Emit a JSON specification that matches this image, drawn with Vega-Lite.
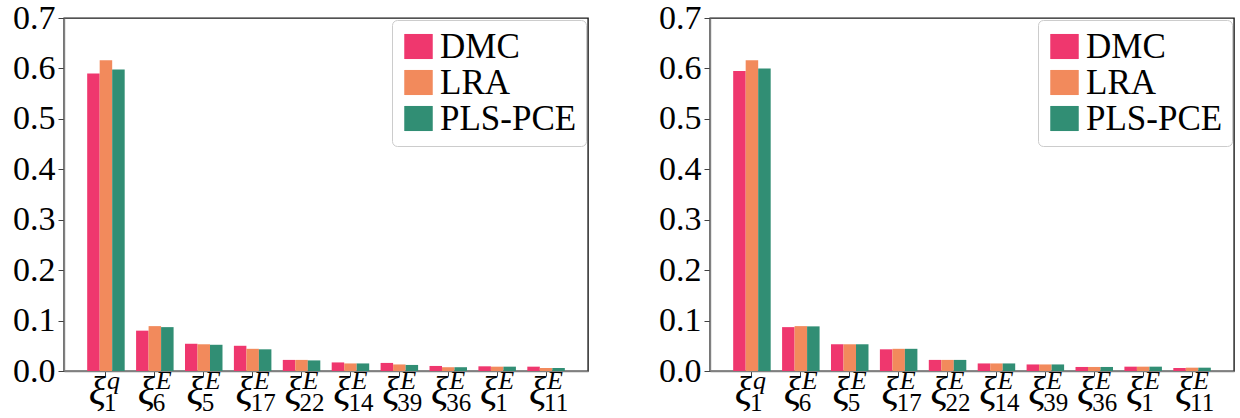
{
  "$schema": "https://vega.github.io/schema/vega-lite/v6.json",
  "background": "white",
  "padding": {"left": 11, "top": 0, "right": 0, "bottom": 0},
  "bounds": "flush",
  "spacing": 122,
  "datasets": {
    "left": [
      {"var": "q1", "sup": "q", "sub": "1", "method": "DMC", "value": 0.590},
      {"var": "q1", "sup": "q", "sub": "1", "method": "LRA", "value": 0.616},
      {"var": "q1", "sup": "q", "sub": "1", "method": "PLS-PCE", "value": 0.598},
      {"var": "E6", "sup": "E", "sub": "6", "method": "DMC", "value": 0.080},
      {"var": "E6", "sup": "E", "sub": "6", "method": "LRA", "value": 0.089},
      {"var": "E6", "sup": "E", "sub": "6", "method": "PLS-PCE", "value": 0.087},
      {"var": "E5", "sup": "E", "sub": "5", "method": "DMC", "value": 0.054},
      {"var": "E5", "sup": "E", "sub": "5", "method": "LRA", "value": 0.053},
      {"var": "E5", "sup": "E", "sub": "5", "method": "PLS-PCE", "value": 0.052},
      {"var": "E17", "sup": "E", "sub": "17", "method": "DMC", "value": 0.050},
      {"var": "E17", "sup": "E", "sub": "17", "method": "LRA", "value": 0.044},
      {"var": "E17", "sup": "E", "sub": "17", "method": "PLS-PCE", "value": 0.043},
      {"var": "E22", "sup": "E", "sub": "22", "method": "DMC", "value": 0.022},
      {"var": "E22", "sup": "E", "sub": "22", "method": "LRA", "value": 0.022},
      {"var": "E22", "sup": "E", "sub": "22", "method": "PLS-PCE", "value": 0.021},
      {"var": "E14", "sup": "E", "sub": "14", "method": "DMC", "value": 0.017},
      {"var": "E14", "sup": "E", "sub": "14", "method": "LRA", "value": 0.015},
      {"var": "E14", "sup": "E", "sub": "14", "method": "PLS-PCE", "value": 0.015},
      {"var": "E39", "sup": "E", "sub": "39", "method": "DMC", "value": 0.016},
      {"var": "E39", "sup": "E", "sub": "39", "method": "LRA", "value": 0.013},
      {"var": "E39", "sup": "E", "sub": "39", "method": "PLS-PCE", "value": 0.012},
      {"var": "E36", "sup": "E", "sub": "36", "method": "DMC", "value": 0.010},
      {"var": "E36", "sup": "E", "sub": "36", "method": "LRA", "value": 0.0075},
      {"var": "E36", "sup": "E", "sub": "36", "method": "PLS-PCE", "value": 0.0075},
      {"var": "E1", "sup": "E", "sub": "1", "method": "DMC", "value": 0.0093},
      {"var": "E1", "sup": "E", "sub": "1", "method": "LRA", "value": 0.0086},
      {"var": "E1", "sup": "E", "sub": "1", "method": "PLS-PCE", "value": 0.0086},
      {"var": "E11", "sup": "E", "sub": "11", "method": "DMC", "value": 0.0086},
      {"var": "E11", "sup": "E", "sub": "11", "method": "LRA", "value": 0.006},
      {"var": "E11", "sup": "E", "sub": "11", "method": "PLS-PCE", "value": 0.006}
    ],
    "right": [
      {"var": "q1", "sup": "q", "sub": "1", "method": "DMC", "value": 0.595},
      {"var": "q1", "sup": "q", "sub": "1", "method": "LRA", "value": 0.616},
      {"var": "q1", "sup": "q", "sub": "1", "method": "PLS-PCE", "value": 0.600},
      {"var": "E6", "sup": "E", "sub": "6", "method": "DMC", "value": 0.087},
      {"var": "E6", "sup": "E", "sub": "6", "method": "LRA", "value": 0.089},
      {"var": "E6", "sup": "E", "sub": "6", "method": "PLS-PCE", "value": 0.0885},
      {"var": "E5", "sup": "E", "sub": "5", "method": "DMC", "value": 0.053},
      {"var": "E5", "sup": "E", "sub": "5", "method": "LRA", "value": 0.053},
      {"var": "E5", "sup": "E", "sub": "5", "method": "PLS-PCE", "value": 0.053},
      {"var": "E17", "sup": "E", "sub": "17", "method": "DMC", "value": 0.043},
      {"var": "E17", "sup": "E", "sub": "17", "method": "LRA", "value": 0.044},
      {"var": "E17", "sup": "E", "sub": "17", "method": "PLS-PCE", "value": 0.044},
      {"var": "E22", "sup": "E", "sub": "22", "method": "DMC", "value": 0.022},
      {"var": "E22", "sup": "E", "sub": "22", "method": "LRA", "value": 0.022},
      {"var": "E22", "sup": "E", "sub": "22", "method": "PLS-PCE", "value": 0.022},
      {"var": "E14", "sup": "E", "sub": "14", "method": "DMC", "value": 0.015},
      {"var": "E14", "sup": "E", "sub": "14", "method": "LRA", "value": 0.015},
      {"var": "E14", "sup": "E", "sub": "14", "method": "PLS-PCE", "value": 0.015},
      {"var": "E39", "sup": "E", "sub": "39", "method": "DMC", "value": 0.013},
      {"var": "E39", "sup": "E", "sub": "39", "method": "LRA", "value": 0.013},
      {"var": "E39", "sup": "E", "sub": "39", "method": "PLS-PCE", "value": 0.013},
      {"var": "E36", "sup": "E", "sub": "36", "method": "DMC", "value": 0.008},
      {"var": "E36", "sup": "E", "sub": "36", "method": "LRA", "value": 0.008},
      {"var": "E36", "sup": "E", "sub": "36", "method": "PLS-PCE", "value": 0.008},
      {"var": "E1", "sup": "E", "sub": "1", "method": "DMC", "value": 0.0086},
      {"var": "E1", "sup": "E", "sub": "1", "method": "LRA", "value": 0.0086},
      {"var": "E1", "sup": "E", "sub": "1", "method": "PLS-PCE", "value": 0.0086},
      {"var": "E11", "sup": "E", "sub": "11", "method": "DMC", "value": 0.006},
      {"var": "E11", "sup": "E", "sub": "11", "method": "LRA", "value": 0.0066},
      {"var": "E11", "sup": "E", "sub": "11", "method": "PLS-PCE", "value": 0.0066}
    ]
  },
  "config": {
    "font": "Liberation Serif, Times New Roman, serif",
    "view": {"stroke": "#1a1a1a", "strokeWidth": 1.4},
    "axis": {
      "domainColor": "#808080",
      "domainWidth": 1.4,
      "tickColor": "#404040",
      "tickWidth": 1,
      "grid": false,
      "labelFont": "Liberation Serif, Times New Roman, serif",
      "labelColor": "#000000",
      "title": null
    },
    "legend": {
      "orient": "top-right",
      "offset": 2,
      "title": null,
      "labelFont": "Liberation Serif, Times New Roman, serif",
      "labelFontSize": 35,
      "labelColor": "#000000",
      "labelOffset": 4,
      "symbolType": "M-1,-0.88H1V0.88H-1Z",
      "symbolSize": 812,
      "symbolStrokeWidth": 0,
      "rowPadding": -4,
      "padding": 9,
      "strokeColor": "#cccccc",
      "fillColor": "rgba(255,255,255,0.8)",
      "cornerRadius": 5
    }
  },
  "hconcat": [
    {
      "width": 524,
      "height": 353,
      "data": {"name": "left"},
      "layer": [
        {
          "mark": {"type": "bar"},
          "encoding": {
            "x": {"field": "var", "type": "nominal", "sort": null,
                  "scale": {"paddingInner": 0.233, "paddingOuter": 0.474},
                  "axis": {"labels": false, "tickSize": 5, "domain": true}},
            "xOffset": {"field": "method", "type": "nominal", "scale": {"paddingInner": 0, "paddingOuter": 0}},
            "y": {"field": "value", "type": "quantitative",
                  "scale": {"domain": [0, 0.7], "nice": false, "zero": true},
                  "axis": {"values": [0, 0.1, 0.2, 0.3, 0.4, 0.5, 0.6, 0.7], "format": ".1f", "labelFontSize": 34, "tickSize": 6, "labelPadding": 3}},
            "color": {"field": "method", "type": "nominal",
                      "scale": {"domain": ["DMC", "LRA", "PLS-PCE"], "range": ["#EF376E", "#F28A5C", "#318E74"]}}
          }
        },
        {
          "transform": [{"filter": "datum.method === 'DMC'"}],
          "mark": {"type": "text", "text": "ξ", "font": "Liberation Serif, Times New Roman, serif", "fontStyle": "italic", "fontSize": 40, "align": "right", "baseline": "alphabetic", "dx": 0, "dy": 33},
          "encoding": {"x": {"field": "var", "type": "nominal", "sort": null}, "y": {"datum": 0}}
        },
        {
          "transform": [{"filter": "datum.method === 'DMC'"}],
          "mark": {"type": "text", "font": "Liberation Serif, Times New Roman, serif", "fontStyle": "italic", "fontSize": 26, "align": "left", "baseline": "alphabetic", "dx": 1, "dy": 18},
          "encoding": {"x": {"field": "var", "type": "nominal", "sort": null}, "y": {"datum": 0}, "text": {"field": "sup"}}
        },
        {
          "transform": [{"filter": "datum.method === 'DMC'"}],
          "mark": {"type": "text", "font": "Liberation Serif, Times New Roman, serif", "fontSize": 25, "align": "left", "baseline": "alphabetic", "dx": -2, "dy": 40},
          "encoding": {"x": {"field": "var", "type": "nominal", "sort": null}, "y": {"datum": 0}, "text": {"field": "sub"}}
        }
      ]
    },
    {
      "width": 524,
      "height": 353,
      "data": {"name": "right"},
      "layer": [
        {
          "mark": {"type": "bar"},
          "encoding": {
            "x": {"field": "var", "type": "nominal", "sort": null,
                  "scale": {"paddingInner": 0.233, "paddingOuter": 0.474},
                  "axis": {"labels": false, "tickSize": 5, "domain": true}},
            "xOffset": {"field": "method", "type": "nominal", "scale": {"paddingInner": 0, "paddingOuter": 0}},
            "y": {"field": "value", "type": "quantitative",
                  "scale": {"domain": [0, 0.7], "nice": false, "zero": true},
                  "axis": {"values": [0, 0.1, 0.2, 0.3, 0.4, 0.5, 0.6, 0.7], "format": ".1f", "labelFontSize": 34, "tickSize": 6, "labelPadding": 3}},
            "color": {"field": "method", "type": "nominal",
                      "scale": {"domain": ["DMC", "LRA", "PLS-PCE"], "range": ["#EF376E", "#F28A5C", "#318E74"]}}
          }
        },
        {
          "transform": [{"filter": "datum.method === 'DMC'"}],
          "mark": {"type": "text", "text": "ξ", "font": "Liberation Serif, Times New Roman, serif", "fontStyle": "italic", "fontSize": 40, "align": "right", "baseline": "alphabetic", "dx": 0, "dy": 33},
          "encoding": {"x": {"field": "var", "type": "nominal", "sort": null}, "y": {"datum": 0}}
        },
        {
          "transform": [{"filter": "datum.method === 'DMC'"}],
          "mark": {"type": "text", "font": "Liberation Serif, Times New Roman, serif", "fontStyle": "italic", "fontSize": 26, "align": "left", "baseline": "alphabetic", "dx": 1, "dy": 18},
          "encoding": {"x": {"field": "var", "type": "nominal", "sort": null}, "y": {"datum": 0}, "text": {"field": "sup"}}
        },
        {
          "transform": [{"filter": "datum.method === 'DMC'"}],
          "mark": {"type": "text", "font": "Liberation Serif, Times New Roman, serif", "fontSize": 25, "align": "left", "baseline": "alphabetic", "dx": -2, "dy": 40},
          "encoding": {"x": {"field": "var", "type": "nominal", "sort": null}, "y": {"datum": 0}, "text": {"field": "sub"}}
        }
      ]
    }
  ],
  "resolve": {"scale": {"color": "independent", "x": "independent", "y": "independent"}, "legend": {"color": "independent"}}
}
